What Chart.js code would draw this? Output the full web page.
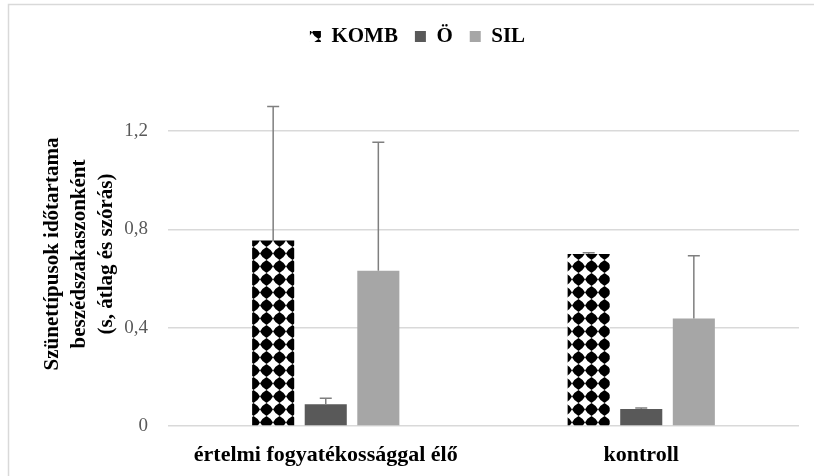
<!DOCTYPE html>
<html>
<head>
<meta charset="utf-8">
<script src="https://cdn.jsdelivr.net/npm/chart.js@4"></script>
<style>
    html, body { margin: 0; padding: 0; background: #fff; }
    #wrap { position: relative; width: 814px; height: 476px; }
</style>
</head>
<body>
<div id="wrap"><canvas id="chart" width="814" height="476"></canvas></div>
<script>
// Chart data
const groups = ['értelmi fogyatékossággal élő', 'kontroll'];
const seriesNames = ['KOMB', 'Ö', 'SIL'];
const kombMean = [0.755, 0.70];
const kombSd = [0.545, 0.005];
const oMean = [0.089, 0.069];
const oSd = [0.024, 0.004];
const silMean = [0.632, 0.438];
const silSd = [0.523, 0.255];
const yTicks = [0, 0.4, 0.8, 1.2];
const yTitle = ['Szünettípusok időtartama', 'beszédszakaszonként', '(s, átlag és szórás)'];

const FONT = 'Liberation Serif';
const canvas = document.getElementById('chart');

// Black diamond fill for the KOMB bars
function makeDiamondPattern() {
    const size = 13;
    const c = document.createElement('canvas');
    c.width = size;
    c.height = size;
    const g = c.getContext('2d');
    g.fillStyle = '#fff';
    g.fillRect(0, 0, size, size);
    const h = size / 2;
    g.fillStyle = '#000';
    g.beginPath();
    g.moveTo(h, 0);
    g.quadraticCurveTo(h + 4.3, h - 4.3, size, h);
    g.quadraticCurveTo(h + 4.3, h + 4.3, h, size);
    g.quadraticCurveTo(h - 4.3, h + 4.3, 0, h);
    g.quadraticCurveTo(h - 4.3, h - 4.3, h, 0);
    g.fill();
    return canvas.getContext('2d').createPattern(c, 'repeat');
}

// Frame around the chart (left and top edges are visible)
const frame = {
    id: 'frame',
    beforeDraw(chart) {
        const ctx = chart.ctx;
        ctx.save();
        ctx.fillStyle = '#fff';
        ctx.fillRect(0, 0, chart.width, chart.height);
        ctx.strokeStyle = '#d9d9d9';
        ctx.lineWidth = 1.5;
        ctx.beginPath();
        ctx.moveTo(8.5, chart.height);
        ctx.lineTo(8.5, 4.5);
        ctx.lineTo(chart.width, 4.5);
        ctx.stroke();
        ctx.restore();
    }
};

// Upper standard deviation whiskers
const errorBars = {
    id: 'errorBars',
    afterDatasetsDraw(chart) {
        const ctx = chart.ctx;
        const yScale = chart.scales.y;
        ctx.save();
        ctx.strokeStyle = '#7f7f7f';
        ctx.lineWidth = 1.5;
        chart.data.datasets.forEach((ds, i) => {
            const meta = chart.getDatasetMeta(i);
            meta.data.forEach((bar, j) => {
                const top = yScale.getPixelForValue(ds.data[j] + ds.sd[j]);
                ctx.beginPath();
                ctx.moveTo(bar.x, bar.y);
                ctx.lineTo(bar.x, top);
                ctx.moveTo(bar.x - 6, top);
                ctx.lineTo(bar.x + 6, top);
                ctx.stroke();
            });
        });
        ctx.restore();
    }
};

// Legend takes a fixed band at the top and sits a bit right of center
const legendBand = {
    id: 'legendBand',
    beforeInit(chart) {
        const fit = chart.legend.fit;
        chart.legend.fit = function () {
            fit.call(this);
            this.height = 73;
        };
    },
    afterLayout(chart) {
        chart.legend.left += 18;
        chart.legend.right += 18;
    }
};

const diamond = makeDiamondPattern();

new Chart(canvas, {
    type: 'bar',
    data: {
        labels: groups,
        datasets: [
            { label: seriesNames[0], data: kombMean, sd: kombSd, backgroundColor: diamond },
            { label: seriesNames[1], data: oMean, sd: oSd, backgroundColor: '#595959' },
            { label: seriesNames[2], data: silMean, sd: silSd, backgroundColor: '#a6a6a6' }
        ]
    },
    options: {
        responsive: false,
        animation: false,
        categoryPercentage: 0.5,
        barPercentage: 0.8,
        layout: { padding: { top: 9, right: 15, left: 0, bottom: 0 } },
        plugins: {
            legend: {
                position: 'top',
                labels: {
                    boxWidth: 11,
                    boxHeight: 11,
                    padding: 17,
                    color: '#000',
                    font: { family: FONT, size: 21, weight: 'bold' }
                }
            },
            tooltip: { enabled: false }
        },
        scales: {
            x: {
                grid: { display: false },
                border: { display: false },
                ticks: {
                    color: '#000',
                    padding: 8,
                    font: { family: FONT, size: 22, weight: 'bold' }
                },
                afterFit(scale) { scale.height = 50; }
            },
            y: {
                min: 0,
                max: 1.4,
                afterBuildTicks(scale) {
                    scale.ticks = yTicks.map(v => ({ value: v }));
                },
                grid: { color: '#d9d9d9', lineWidth: 1.5, drawTicks: false },
                border: { display: false },
                ticks: {
                    color: '#595959',
                    padding: 20,
                    font: { family: FONT, size: 19 },
                    callback: v => v === 0 ? '0' : v.toFixed(1).replace('.', ',')
                },
                title: {
                    display: true,
                    text: yTitle,
                    color: '#000',
                    padding: { top: 39, bottom: 0 },
                    font: { family: FONT, size: 21, weight: 'bold', lineHeight: 1.29 }
                },
                afterFit(scale) { scale.width = 168; }
            }
        }
    },
    plugins: [frame, errorBars, legendBand]
});
</script>
</body>
</html>
